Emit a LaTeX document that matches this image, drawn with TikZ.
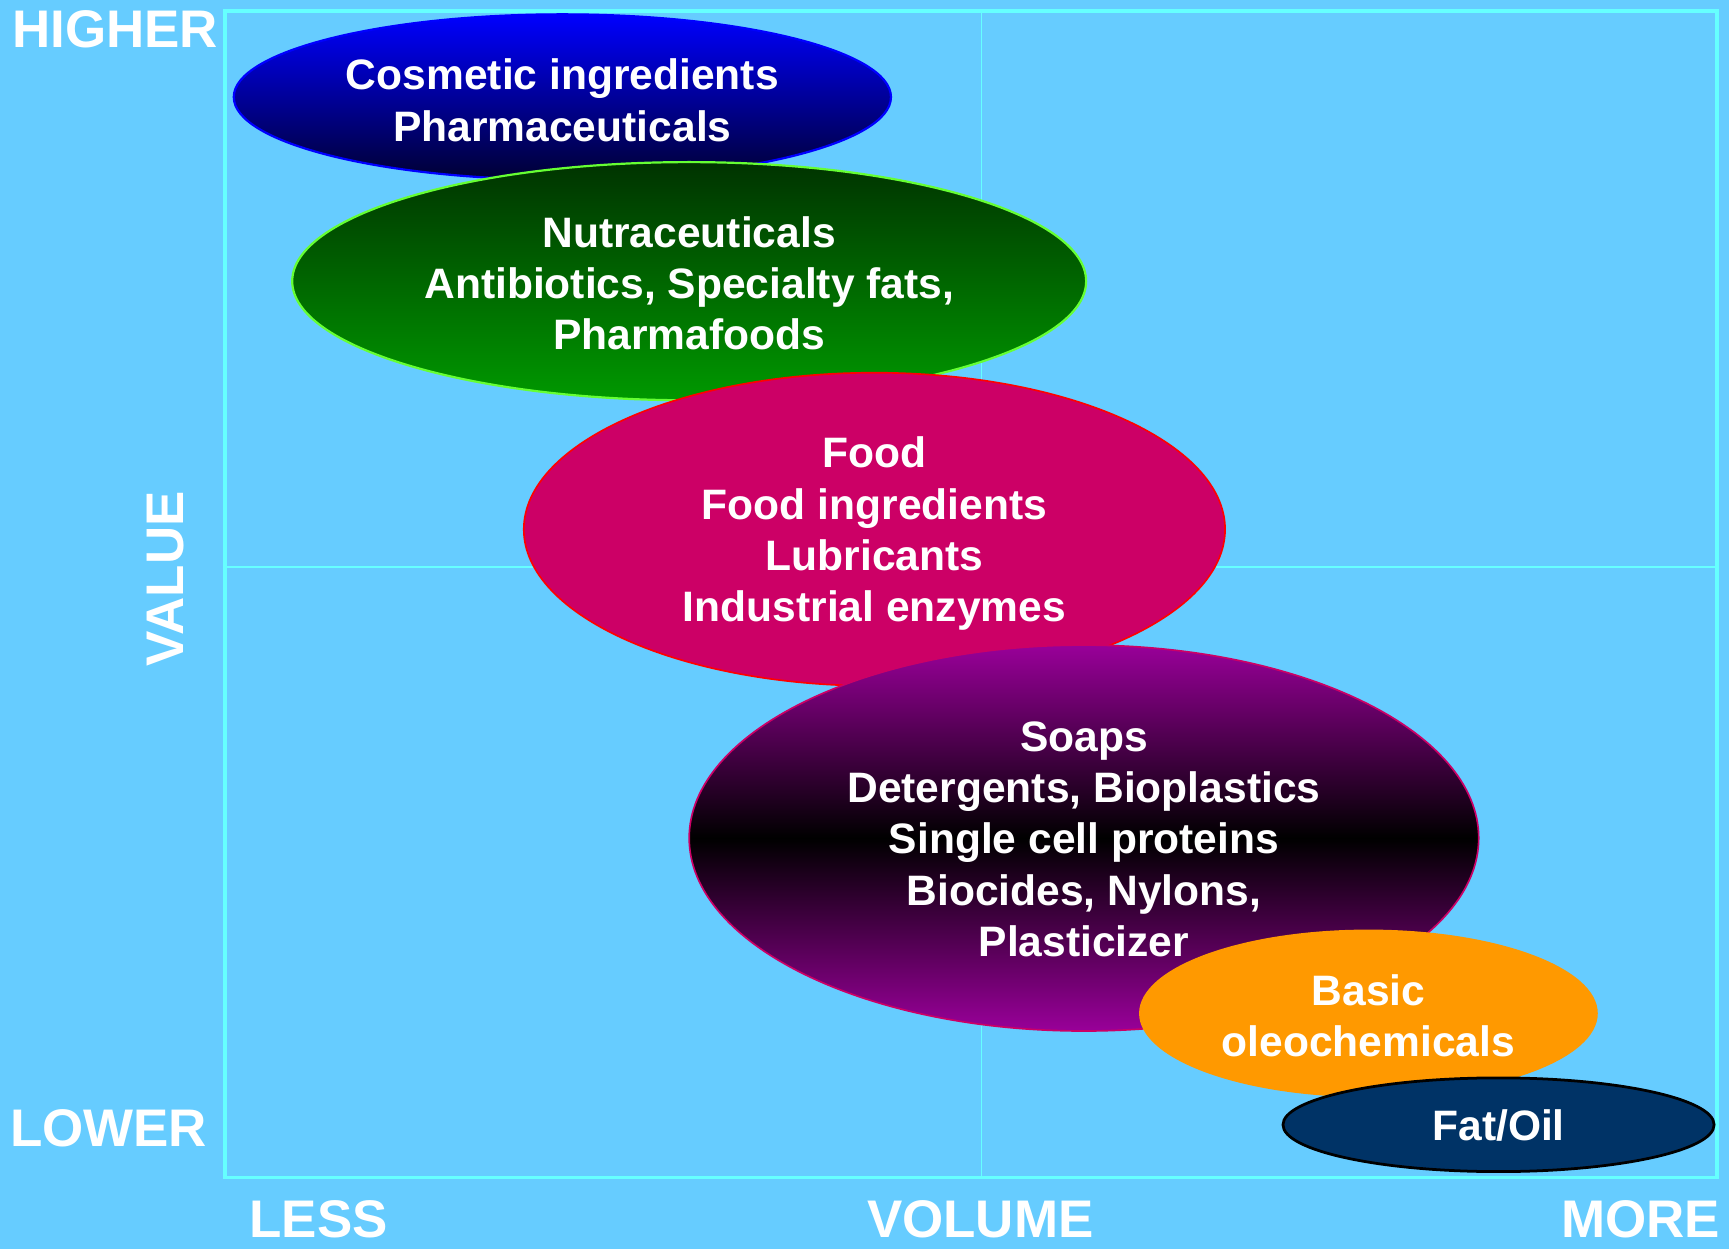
\documentclass[tikz,border=0pt]{standalone}
\usepackage{fontspec}
\setmainfont{Liberation Sans}
\usetikzlibrary{shapes.geometric}
\definecolor{bg}{HTML}{66CCFF}
\definecolor{framec}{HTML}{66FFFF}
\definecolor{blueT}{HTML}{0000FF}
\definecolor{blueB}{HTML}{000033}
\definecolor{greenT}{HTML}{003300}
\definecolor{greenB}{HTML}{009900}
\definecolor{greenE}{HTML}{66FF33}
\definecolor{crimson}{HTML}{CC0066}
\definecolor{purp}{HTML}{990099}
\definecolor{orangeC}{HTML}{FF9900}
\definecolor{navy}{HTML}{003366}
\tikzset{
  blob/.style={ellipse, inner sep=0pt},
  blobtext/.style={inner sep=0pt, align=center, text=white,
    font=\fontsize{38.6}{46.5}\selectfont\bfseries},
  axislabel/.style={inner sep=0pt, text=white,
    font=\fontsize{48}{50}\selectfont\bfseries},
  framebox/.style={draw=framec, line width=3pt},
  midline/.style={draw=framec, line width=1.5pt}
}
\begin{document}
\begin{tikzpicture}[x=1pt,y=-1pt]
\fill[bg] (0,0) rectangle (1568,1133);
\useasboundingbox (0,0) rectangle (1568,1133);
% frame
\coordinate (tl) at (204,10);
\coordinate (br) at (1557,1068);
\coordinate (vt) at (890,10);
\coordinate (vb) at (890,1068);
\coordinate (hl) at (204,514);
\coordinate (hr) at (1557,514);
\draw[midline] (vt) -- (vb);
\draw[midline] (hl) -- (hr);
\draw[framebox] (tl) rectangle (br);
% axis labels
\node[axislabel, anchor=base west] (higher) at (11,43) {HIGHER};
\node[axislabel, anchor=base west] (lower) at (9,1040) {LOWER};
\node[axislabel, anchor=base west] (less) at (226,1122) {LESS};
\node[axislabel, anchor=base] (volume) at (889,1122) {VOLUME};
\node[axislabel, anchor=base east] (more) at (1560,1122) {MORE};
\node[axislabel, anchor=base, rotate=90] (value) at (166,525) {VALUE};
% ellipses
\node[blob, minimum width=596pt, minimum height=150pt, draw=blueT, line width=2pt,
  top color=blueT, bottom color=blueB] (cos) at (510,88) {};
\node[blobtext] (costext) at (510,91) {Cosmetic ingredients\\Pharmaceuticals};
\node[blob, minimum width=720pt, minimum height=216pt, draw=greenE, line width=2pt,
  top color=greenT, bottom color=greenB] (nut) at (625,255) {};
\node[blobtext] (nuttext) at (625,257) {Nutraceuticals\\Antibiotics, Specialty fats,\\Pharmafoods};
\node[blob, minimum width=636pt, minimum height=284pt, draw=red, line width=1.5pt,
  fill=crimson] (food) at (793,480) {};
\node[blobtext] (foodtext) at (793,484) {Food\\Food ingredients\\Lubricants\\Industrial enzymes};
\node[blob, minimum width=716pt, minimum height=350pt, draw=crimson, line width=1.5pt,
  top color=purp, bottom color=purp, middle color=black] (soap) at (983,760) {};
\node[blobtext] (soaptext) at (983,761) {Soaps\\Detergents, Bioplastics\\Single cell proteins\\Biocides, Nylons,\\Plasticizer};
\node[blob, minimum width=416pt, minimum height=152pt, fill=orangeC] (basic) at (1241,919) {};
\node[blobtext] (basictext) at (1241,921) {Basic\\oleochemicals};
\node[blob, minimum width=391pt, minimum height=85pt, draw=black, line width=2.5pt,
  fill=navy] (fat) at (1359,1020) {};
\node[blobtext] (fattext) at (1359,1021) {Fat/Oil};
\end{tikzpicture}
\end{document}
